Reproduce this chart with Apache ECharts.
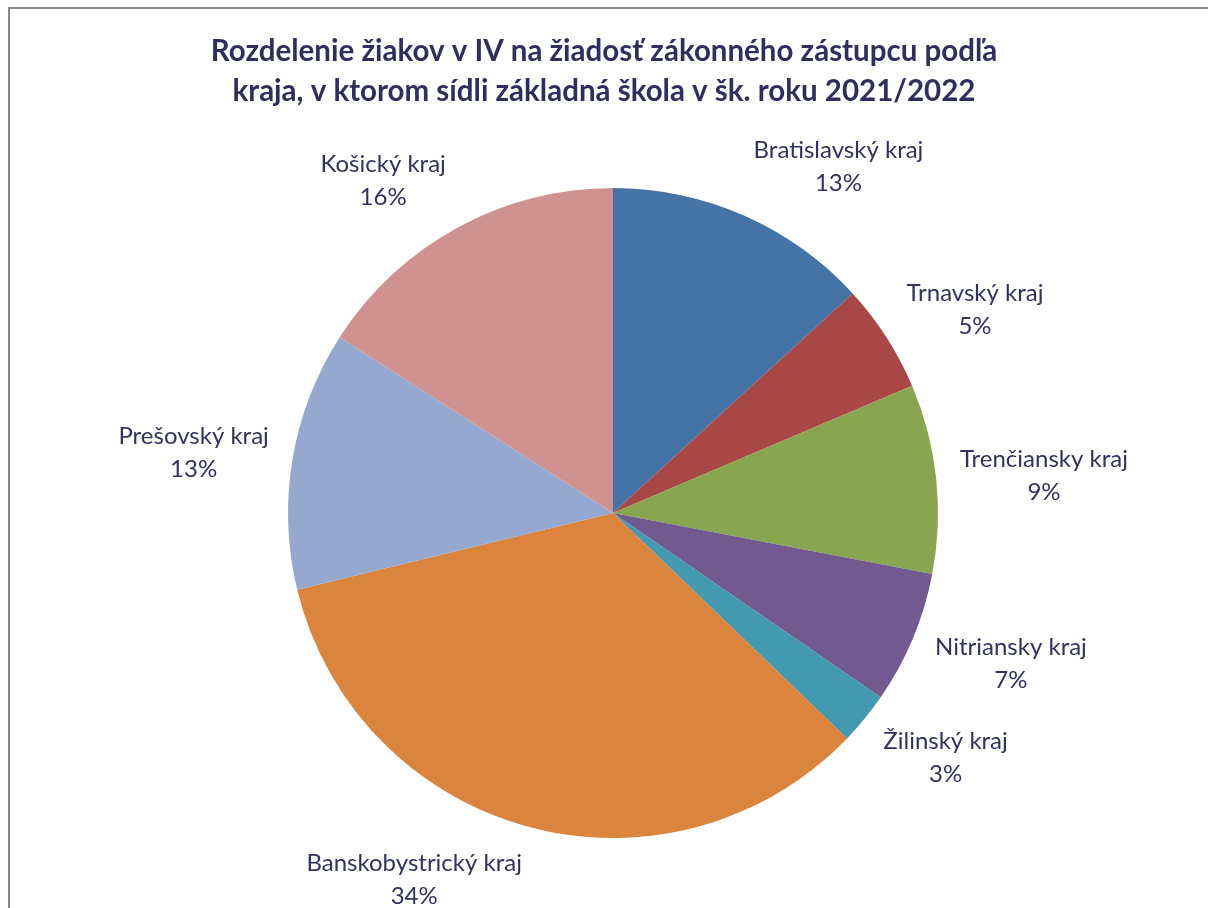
<!DOCTYPE html>
<html>
<head>
<meta charset="utf-8">
<script src="https://cdn.jsdelivr.net/npm/echarts@6/dist/echarts.min.js"></script>
<style>
html,body{margin:0;padding:0;background:#fff;}
#c{width:1208px;height:908px;}
</style>
</head>
<body>
<div id="c"></div>
<script>
const titleText = 'Rozdelenie žiakov v IV na žiadosť zákonného zástupcu podľa\nkraja, v ktorom sídli základná škola v šk. roku 2021/2022';
const categories = ['Bratislavský kraj','Trnavský kraj','Trenčiansky kraj','Nitriansky kraj','Žilinský kraj','Banskobystrický kraj','Prešovský kraj','Košický kraj'];
const values = [13.2, 5.4, 9.4, 6.6, 2.6, 34.0, 12.9, 15.9];
const colors = ['#4673A6','#A84745','#88A54F','#725990','#4299B0','#DB843D','#95A9D0','#D09291'];

const CX = 613, CY = 513, R = 325, LABEL_GAP = 24;
const total = values.reduce((a,b)=>a+b,0);
const mids = [];
let acc = 0;
values.forEach(v => { mids.push((acc + v/2)/total*2*Math.PI); acc += v; });

const chart = echarts.init(document.getElementById('c'), null, {renderer:'canvas'});
chart.setOption({
  backgroundColor:'#fff',
  animation:false,
  title:{
    text:titleText,
    left:'center', top:26,
    textStyle:{fontFamily:'Lato', fontWeight:'bold', fontSize:29.5, color:'#302E5E', lineHeight:40}
  },
  graphic:[{
    type:'rect', silent:true,
    shape:{x:9, y:8, width:1300, height:1000},
    style:{fill:'none', stroke:'#878787', lineWidth:2}
  }],
  series:[{
    type:'pie',
    center:[CX, CY],
    radius:[0, R],
    startAngle:90,
    clockwise:true,
    data:categories.map((c,i)=>({name:c, value:values[i], itemStyle:{color:colors[i]}})),
    label:{
      show:true, position:'outside',
      fontFamily:'Lato', fontSize:24, color:'#33325F', lineHeight:33,
      align:'center',
      formatter: p => p.name + '\n' + Math.round(p.value) + '%'
    },
    labelLine:{show:false},
    labelLayout: function(p){
      const t = mids[p.dataIndex];
      const s = Math.sin(t), c = Math.cos(t);
      const ax = CX + (R+LABEL_GAP)*s, ay = CY - (R+LABEL_GAP)*c;
      const w = p.labelRect.width, h = p.labelRect.height;
      const dy = c < -0.9 ? -2 : 3;
      return {x: ax + Math.sign(s)*w/2, y: ay - c*h/2 + dy, align:'center', verticalAlign:'middle'};
    },
    emphasis:{disabled:true}
  }]
});
</script>
</body>
</html>
